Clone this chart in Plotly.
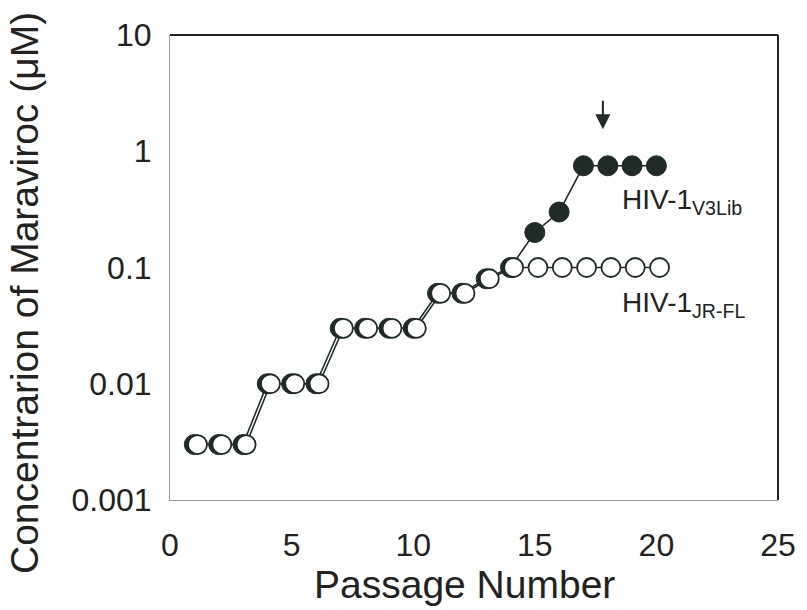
import plotly.graph_objects as go

passage = list(range(1, 21))
jrfl = [0.003, 0.003, 0.003, 0.01, 0.01, 0.01, 0.03, 0.03, 0.03, 0.03,
        0.06, 0.06, 0.08, 0.1, 0.1, 0.1, 0.1, 0.1, 0.1, 0.1]
v3lib = [0.003, 0.003, 0.003, 0.01, 0.01, 0.01, 0.03, 0.03, 0.03, 0.03,
         0.06, 0.06, 0.08, 0.1, 0.2, 0.3, 0.75, 0.75, 0.75, 0.75]
x_ticks = [0, 5, 10, 15, 20, 25]
y_ticks = [0.001, 0.01, 0.1, 1, 10]
y_ticktext = ["0.001", "0.01", "0.1", "1", "10"]

dark = "#1e2b27"
regular = "Liberation Sans, Arial, sans-serif"

fig = go.Figure()
fig.add_trace(go.Scatter(
    x=passage, y=v3lib, mode="lines+markers",
    line=dict(color=dark, width=1.6),
    marker=dict(symbol="circle", size=20, color=dark, line=dict(color=dark, width=1)),
    showlegend=False))
fig.add_trace(go.Scatter(
    x=passage, y=jrfl, mode="lines+markers", xaxis="x2",
    line=dict(color=dark, width=1.6),
    marker=dict(symbol="circle", size=19, color="white", line=dict(color=dark, width=1.8)),
    showlegend=False))

fig.update_layout(
    width=807, height=610,
    margin=dict(l=170, r=29, t=35, b=110),
    paper_bgcolor="white", plot_bgcolor="white",
    font=dict(family=regular, color="#222222", size=32),
    xaxis=dict(range=[0, 25], tickvals=x_ticks, showgrid=False, zeroline=False,
               showline=True, linecolor="#9a9a9a", linewidth=1, ticks="",
               ticklabelstandoff=17, tickfont=dict(size=32), automargin=False),
    xaxis2=dict(range=[-0.13, 24.87], overlaying="x", visible=False),
    yaxis=dict(type="log", range=[-3, 1], tickvals=y_ticks, ticktext=y_ticktext,
               showgrid=False, zeroline=False, showline=True, linecolor="#9a9a9a",
               linewidth=1, ticks="", ticklabelstandoff=11, tickfont=dict(size=32),
               automargin=False),
    shapes=[
        dict(type="line", xref="paper", yref="paper", x0=0, x1=1, y0=1, y1=1,
             line=dict(color="#222222", width=2)),
        dict(type="line", xref="paper", yref="paper", x0=1, x1=1, y0=0, y1=1,
             line=dict(color="#222222", width=2)),
    ],
    annotations=[
        dict(x=(464 - 170) / 608, y=-(584 - 500) / 465, xref="paper", yref="paper",
             text="Passage Number", showarrow=False, xanchor="center", yanchor="middle",
             font=dict(size=39)),
        dict(x=-(170 - 24) / 608, y=(500 - 293) / 465, xref="paper", yref="paper",
             text="Concentrarion of Maraviroc (μM)", textangle=-90, showarrow=False,
             xanchor="center", yanchor="middle", font=dict(size=39)),
        dict(x=18.5, y=-0.43, xref="x", yref="y", text="HIV-1<sub>V3Lib</sub>",
             showarrow=False, xanchor="left", yanchor="middle",
             font=dict(size=28)),
        dict(x=18.5, y=-1.32, xref="x", yref="y", text="HIV-1<sub>JR-FL</sub>",
             showarrow=False, xanchor="left", yanchor="middle",
             font=dict(size=28)),
        dict(x=17.8, y=0.19, xref="x", yref="y", text="", showarrow=True,
             ax=0, ay=-30, arrowhead=2, arrowsize=1.5, arrowwidth=2, arrowcolor=dark),
    ],
)

fig.write_html("out.html")
